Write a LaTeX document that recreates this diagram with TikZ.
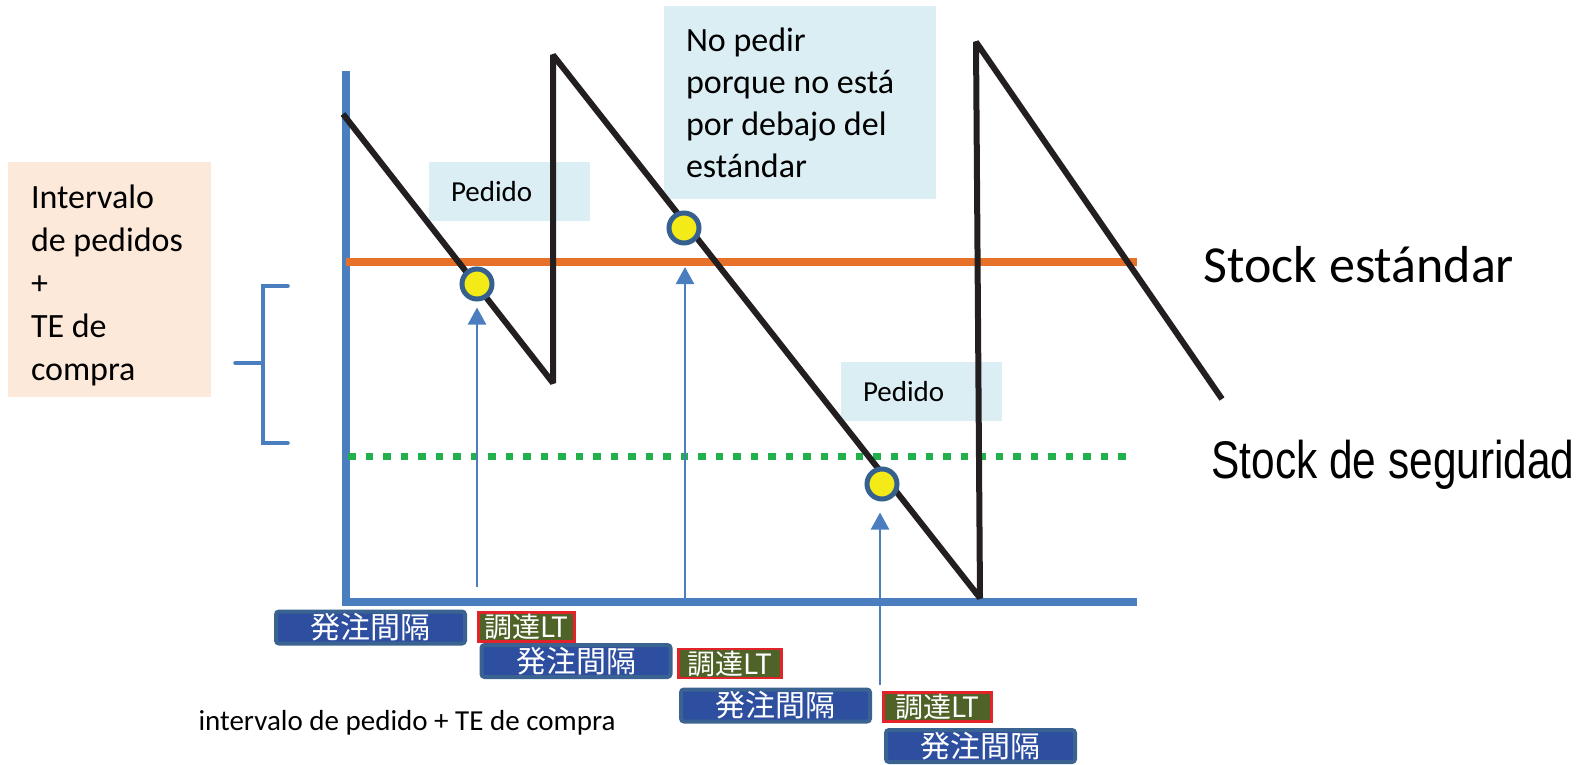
\documentclass[tikz,border=0pt]{standalone}
\usepackage{fontspec}
\setmainfont{Carlito}
\newfontfamily\jpfont{Noto Sans CJK JP}
\newfontfamily\narrowfont[FakeStretch=0.8]{Liberation Sans}
\usetikzlibrary{arrows.meta}
\definecolor{axisblue}{HTML}{4A7EBE}
\definecolor{stdorange}{HTML}{E8712A}
\definecolor{safegreen}{HTML}{21B04B}
\definecolor{linedark}{HTML}{231F20}
\definecolor{noteblue}{HTML}{DAEEF4}
\definecolor{notepeach}{HTML}{FDE9DA}
\definecolor{dotyellow}{HTML}{F4EA17}
\definecolor{dotrim}{HTML}{36608F}
\definecolor{kfill}{HTML}{2E4F9F}
\definecolor{kframe}{HTML}{3A6391}
\definecolor{lfill}{HTML}{4F6228}
\definecolor{lred}{HTML}{E2242A}
\begin{document}
\begin{tikzpicture}[x=1pt,y=-1pt,
  note/.style={fill=noteblue, anchor=north west, align=flush left, inner ysep=0pt, outer sep=0pt},
  dot/.style={circle, fill=dotyellow, draw=dotrim, line width=5pt, minimum size=30pt, inner sep=0pt},
  flow/.style={draw=axisblue, line width=2.5pt, -{Triangle[width=18pt,length=17pt]}},
  kbox/.style={draw=kframe, fill=kfill, line width=4pt, rounded corners=3pt, text=white,
    font=\jpfont\fontsize{30}{30}\selectfont, inner sep=0pt, minimum width=189pt, minimum height=32pt},
  lbox/.style={draw=lred, fill=lfill, line width=2.5pt, text=white,
    font=\jpfont\fontsize{28}{28}\selectfont, inner sep=0pt, minimum height=29pt}]
\useasboundingbox (0,0) rectangle (1582,764);

\node[note, fill=notepeach, inner xsep=23pt, text width=157pt, minimum height=235pt,
  font=\fontsize{34}{43}\selectfont] (span) at (8,162)
  {\rule{0pt}{35pt}Intervalo\\de pedidos\\+\\TE de\\compra};
\node[note, inner xsep=22pt, text width=117pt, minimum height=59pt,
  font=\fontsize{29}{35}\selectfont] (pedidoA) at (429,162) {Pedido};
\node[note, inner xsep=22pt, text width=117pt, minimum height=59pt,
  font=\fontsize{29}{35}\selectfont] (pedidoB) at (841,362) {Pedido};
\node[note, inner xsep=22pt, text width=228pt, minimum height=193pt,
  font=\fontsize{34}{42}\selectfont] (nopedir) at (664,6)
  {No pedir\\porque no está\\por debajo del\\estándar};

\draw[axisblue, line width=3.5pt, line cap=round] (288,286) -- (263,286) -- (263,443) -- (288,443);
\draw[axisblue, line width=3.5pt, line cap=round] (235,363) -- (263,363);

\draw[axisblue, line width=8pt] (346,71) -- (346,602) -- (1137,602);
\draw[stdorange, line width=8pt] (346,262) -- (1137,262);
\draw[safegreen, line width=7pt, dash pattern=on 7.5pt off 10pt] (348,456) -- (1134,456);

\draw[linedark, line width=6pt, line join=bevel]
  (343,114) -- (553,383) -- (553,55) -- (980,598) -- (976,42) -- (1222,399);

\node[dot] (c1) at (477,284) {};
\node[dot] (c2) at (684,228) {};
\node[dot] (c3) at (882,484) {};

\coordinate (a1) at (477,587);
\coordinate (a2) at (685,600);
\coordinate (t2) at (685,267);
\coordinate (a3) at (880,685);
\draw[flow, shorten >=6pt] (a1) -- (c1);
\draw[flow] (a2) -- (t2);
\draw[flow, shorten >=11pt] (a3) -- (a3 |- c3.south);

\node[anchor=base west, font=\fontsize{52}{60}\selectfont] (std) at (1200,282) {Stock estándar};
\node[anchor=base west, font=\narrowfont\fontsize{53}{60}\selectfont] (safe) at (1208,478) {Stock de seguridad};

\node[kbox] (k1) at (370.5,627.5) {発注間隔};
\node[lbox, minimum width=96pt] (l1) at (526.5,627) {調達LT};
\node[kbox] (k2) at (576,661) {発注間隔};
\node[lbox, minimum width=103pt] (l2) at (730,663.5) {調達LT};
\node[kbox] (k3) at (775.5,705.5) {発注間隔};
\node[lbox, minimum width=108pt] (l3) at (937.5,707) {調達LT};
\node[kbox] (k4) at (980.5,746) {発注間隔};

\node[anchor=base west, font=\fontsize{29}{35}\selectfont] (caption) at (195,730)
  {intervalo de pedido + TE de compra};
\end{tikzpicture}
\end{document}
